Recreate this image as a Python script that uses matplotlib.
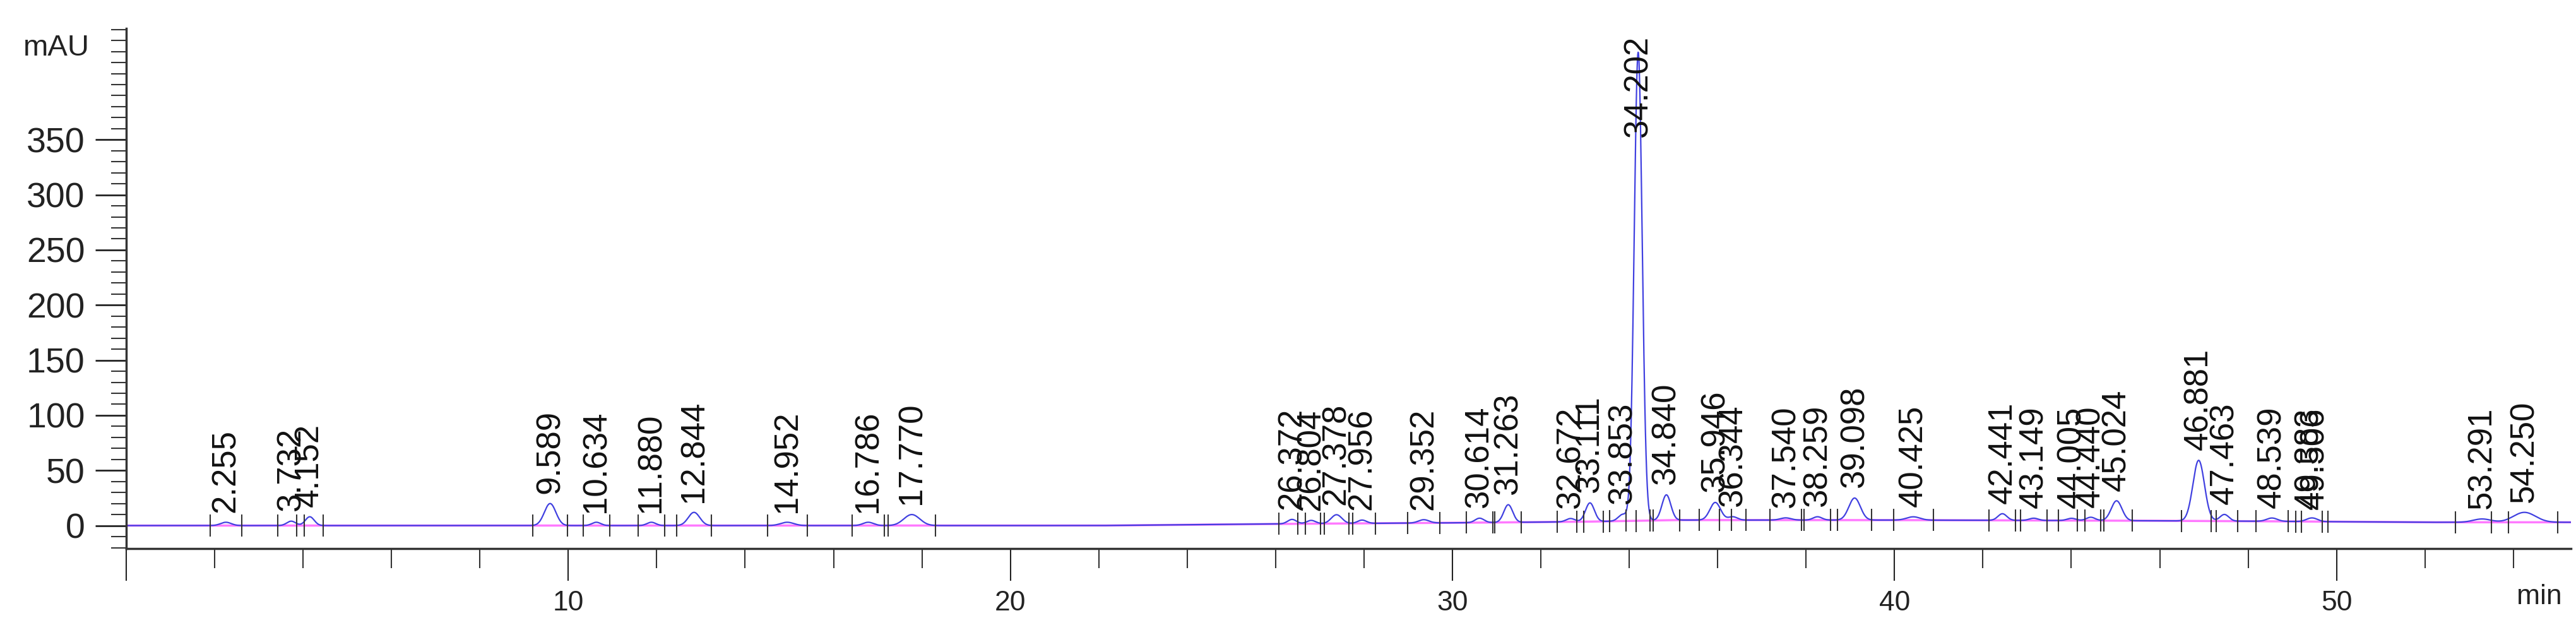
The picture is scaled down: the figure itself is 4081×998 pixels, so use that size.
import numpy as np
import matplotlib.pyplot as plt
from matplotlib.ticker import MultipleLocator, FuncFormatter

plt.rcParams['font.family'] = ['Liberation Sans', 'DejaVu Sans']

# retention times (min), heights above baseline (mAU), peak widths (min)
rt = [2.255, 3.732, 4.152, 9.589, 10.634, 11.880, 12.844, 14.952, 16.786, 17.770,
      26.372, 26.804, 27.378, 27.956, 29.352, 30.614, 31.263, 32.672, 33.111, 33.853,
      34.202, 34.840, 35.946, 36.344, 37.540, 38.259, 39.098, 40.425, 42.441, 43.149,
      44.005, 44.440, 45.024, 46.881, 47.463, 48.539, 49.383, 49.506, 53.291, 54.250]
height = [3, 4, 8, 20, 3, 3, 12, 3, 3, 10,
          4, 3, 8, 3, 3, 4, 16, 3, 17, 6,
          425, 23, 16, 3, 2, 3, 20, 3, 6, 2,
          2, 3, 18, 55, 6, 3, 2, 2, 3, 9]
width = [0.12, 0.1, 0.1, 0.13, 0.1, 0.1, 0.13, 0.15, 0.12, 0.18,
         0.1, 0.1, 0.12, 0.1, 0.12, 0.1, 0.1, 0.1, 0.1, 0.1,
         0.09, 0.1, 0.12, 0.1, 0.12, 0.1, 0.13, 0.15, 0.1, 0.1,
         0.1, 0.1, 0.12, 0.13, 0.1, 0.12, 0.1, 0.1, 0.2, 0.25]
# baseline drift knots (min, mAU)
drift_t = [0, 9, 18, 22, 26, 30, 33, 35, 40, 45, 48, 52, 56]
drift_y = [0, 0, 0, 0, 1.5, 2.5, 3.5, 5, 5, 4.5, 4, 3, 3]

t = np.linspace(0, 55.3, 8000)
base = np.interp(t, drift_t, drift_y)
sig = base.copy()
for r, h, w in zip(rt, height, width):
    sig += h * np.exp(-0.5 * ((t - r) / w) ** 2)

fig = plt.figure(figsize=(40.81, 9.98), dpi=100)
ax = fig.add_axes([0.049, 0.129, 0.949, 0.826])

ax.plot(t, base, color='#ff40ff', lw=2.5, alpha=0.7)
ax.plot(t, sig, color='#4040e0', lw=1.6)

# integration markers and peak labels
for r, h, w in zip(rt, height, width):
    b = np.interp(r, drift_t, drift_y)
    ax.vlines([r - 3 * w, r + 3 * w], b - 10, b + 10, color='#333333', lw=1.5)
    ytxt = b + h + 9 if h < 100 else 352
    ax.text(r, ytxt, f'{r:.3f}', rotation=90, ha='center', va='bottom',
            fontsize=38, color='#111111')

ax.set_xlim(0, 55.3)
ax.set_ylim(-21, 451)
ax.spines['top'].set_visible(False)
ax.spines['right'].set_visible(False)
for s in ['left', 'bottom']:
    ax.spines[s].set_linewidth(2.5)
    ax.spines[s].set_color('#333333')

ax.set_yticks(np.arange(0, 351, 50))
ax.yaxis.set_minor_locator(MultipleLocator(10))
ax.xaxis.set_major_locator(MultipleLocator(10))
ax.xaxis.set_minor_locator(MultipleLocator(2))
ax.xaxis.set_major_formatter(FuncFormatter(lambda v, p: '' if v == 0 else f'{v:.0f}'))
ax.tick_params(axis='y', which='major', length=35, width=2, labelsize=40, pad=12, colors='#222222')
ax.tick_params(axis='y', which='minor', length=17, width=1.5, colors='#333333')
ax.tick_params(axis='x', which='major', length=37, width=1.5, labelsize=32, pad=10, colors='#222222')
ax.tick_params(axis='x', which='minor', length=22, width=1.5, colors='#333333')

fig.text(0.009, 0.924, 'mAU', fontsize=34, color='#222222', va='center')
fig.text(0.977, 0.053, 'min', fontsize=32, color='#222222', va='center')

fig.savefig('out.png')
